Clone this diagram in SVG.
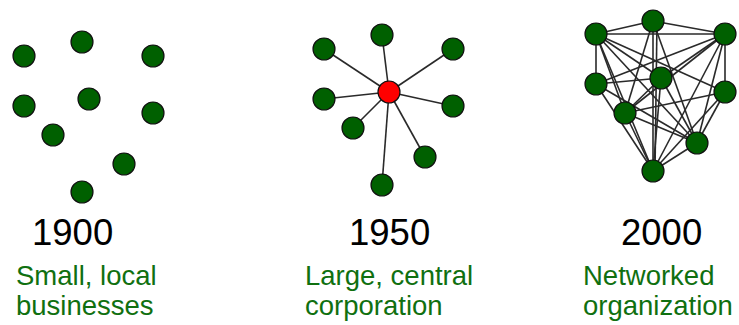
<svg xmlns="http://www.w3.org/2000/svg" width="739" height="325" viewBox="0 0 739 325">
<style>
.n{fill:#006000;stroke:#111;stroke-width:1.2}
.hub{fill:#ff0000;stroke:#111;stroke-width:1.2}
.e{stroke:#2a2a2a;stroke-width:1.6;fill:none}
.yr{font-family:"Liberation Sans",Arial,sans-serif;font-size:36.5px;fill:#000}
.lb{font-family:"Liberation Sans",Arial,sans-serif;font-size:27.5px;fill:#107010}
</style>
<rect width="739" height="325" fill="#fff"/>
<g id="connectors">
<g id="star-edges">
<line class="e" x1="389" y1="92" x2="382" y2="35"/>
<line class="e" x1="389" y1="92" x2="324" y2="49"/>
<line class="e" x1="389" y1="92" x2="453" y2="49"/>
<line class="e" x1="389" y1="92" x2="324" y2="99"/>
<line class="e" x1="389" y1="92" x2="453" y2="106"/>
<line class="e" x1="389" y1="92" x2="353" y2="128"/>
<line class="e" x1="389" y1="92" x2="425" y2="157"/>
<line class="e" x1="389" y1="92" x2="382" y2="185"/>
</g>
<g id="network-edges">
<line class="e" x1="653" y1="21" x2="596" y2="34"/>
<line class="e" x1="653" y1="21" x2="725" y2="34"/>
<line class="e" x1="596" y1="34" x2="725" y2="34"/>
<line class="e" x1="596" y1="34" x2="596" y2="84"/>
<line class="e" x1="725" y1="34" x2="725" y2="92"/>
<line class="e" x1="653" y1="21" x2="653" y2="171"/>
<line class="e" x1="657" y1="21" x2="655" y2="171"/>
<line class="e" x1="653" y1="21" x2="625" y2="113"/>
<line class="e" x1="653" y1="21" x2="697" y2="143"/>
<line class="e" x1="596" y1="34" x2="661" y2="78"/>
<line class="e" x1="596" y1="34" x2="625" y2="113"/>
<line class="e" x1="596" y1="34" x2="697" y2="143"/>
<line class="e" x1="596" y1="34" x2="653" y2="171"/>
<line class="e" x1="596" y1="34" x2="725" y2="92"/>
<line class="e" x1="725" y1="34" x2="596" y2="84"/>
<line class="e" x1="725" y1="34" x2="661" y2="78"/>
<line class="e" x1="725" y1="34" x2="625" y2="113"/>
<line class="e" x1="725" y1="34" x2="697" y2="143"/>
<line class="e" x1="725" y1="34" x2="653" y2="171"/>
<line class="e" x1="596" y1="84" x2="661" y2="78"/>
<line class="e" x1="596" y1="84" x2="653" y2="171"/>
<line class="e" x1="596" y1="84" x2="697" y2="143"/>
<line class="e" x1="661" y1="78" x2="625" y2="113"/>
<line class="e" x1="661" y1="78" x2="653" y2="171"/>
<line class="e" x1="661" y1="78" x2="697" y2="143"/>
<line class="e" x1="625" y1="113" x2="725" y2="92"/>
<line class="e" x1="625" y1="113" x2="697" y2="143"/>
<line class="e" x1="625" y1="113" x2="653" y2="171"/>
<line class="e" x1="725" y1="92" x2="653" y2="171"/>
<line class="e" x1="725" y1="92" x2="697" y2="143"/>
<line class="e" x1="697" y1="143" x2="653" y2="171"/>
</g>
</g>
<g id="n1900-1"><circle class="n" cx="24" cy="56" r="11"/></g>
<g id="n1900-2"><circle class="n" cx="82" cy="42" r="11"/></g>
<g id="n1900-3"><circle class="n" cx="153" cy="56" r="11"/></g>
<g id="n1900-4"><circle class="n" cx="24" cy="106" r="11"/></g>
<g id="n1900-5"><circle class="n" cx="89" cy="99" r="11"/></g>
<g id="n1900-6"><circle class="n" cx="153" cy="113" r="11"/></g>
<g id="n1900-7"><circle class="n" cx="53" cy="135" r="11"/></g>
<g id="n1900-8"><circle class="n" cx="124" cy="164" r="11"/></g>
<g id="n1900-9"><circle class="n" cx="82" cy="192" r="11"/></g>
<g id="n1950-hub"><circle class="hub" cx="389" cy="92" r="11"/></g>
<g id="n1950-1"><circle class="n" cx="382" cy="35" r="11"/></g>
<g id="n1950-2"><circle class="n" cx="324" cy="49" r="11"/></g>
<g id="n1950-3"><circle class="n" cx="453" cy="49" r="11"/></g>
<g id="n1950-4"><circle class="n" cx="324" cy="99" r="11"/></g>
<g id="n1950-5"><circle class="n" cx="453" cy="106" r="11"/></g>
<g id="n1950-6"><circle class="n" cx="353" cy="128" r="11"/></g>
<g id="n1950-7"><circle class="n" cx="425" cy="157" r="11"/></g>
<g id="n1950-8"><circle class="n" cx="382" cy="185" r="11"/></g>
<g id="n2000-a"><circle class="n" cx="653" cy="21" r="11"/></g>
<g id="n2000-b"><circle class="n" cx="596" cy="34" r="11"/></g>
<g id="n2000-c"><circle class="n" cx="725" cy="34" r="11"/></g>
<g id="n2000-d"><circle class="n" cx="596" cy="84" r="11"/></g>
<g id="n2000-e"><circle class="n" cx="661" cy="78" r="11"/></g>
<g id="n2000-f"><circle class="n" cx="725" cy="92" r="11"/></g>
<g id="n2000-g"><circle class="n" cx="625" cy="113" r="11"/></g>
<g id="n2000-h"><circle class="n" cx="697" cy="143" r="11"/></g>
<g id="n2000-i"><circle class="n" cx="653" cy="171" r="11"/></g>
<g id="labels">
<text class="yr" x="32" y="245">1900</text>
<text class="lb" x="16" y="285">Small, local</text>
<text class="lb" x="16" y="315">businesses</text>
<text class="yr" x="349" y="245">1950</text>
<text class="lb" x="305" y="285">Large, central</text>
<text class="lb" x="305" y="315">corporation</text>
<text class="yr" x="621" y="245">2000</text>
<text class="lb" x="583" y="285">Networked</text>
<text class="lb" x="583" y="315">organization</text>
</g>
</svg>
